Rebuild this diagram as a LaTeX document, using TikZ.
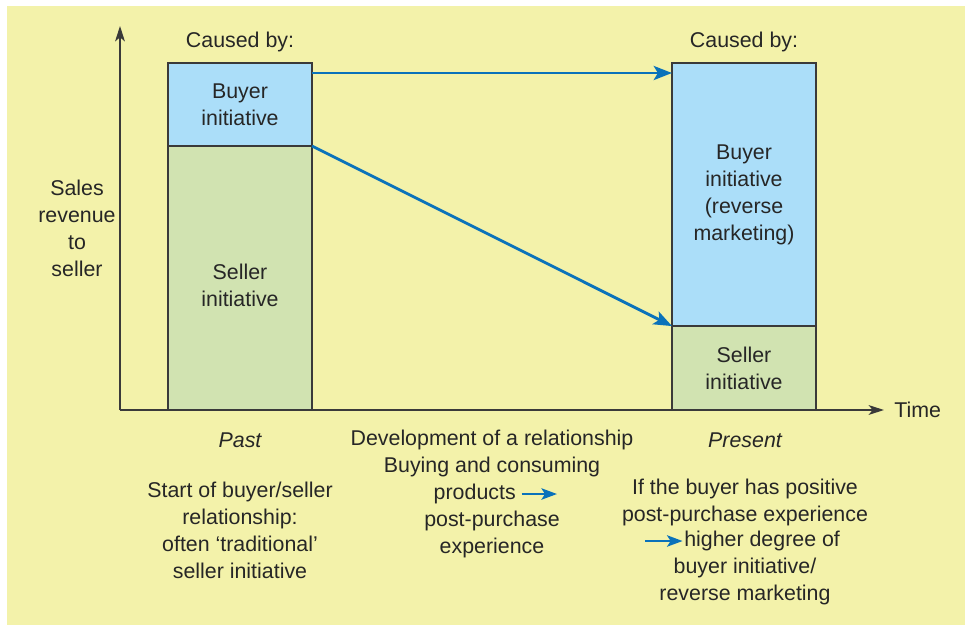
\documentclass[tikz,border=0pt]{standalone}
\usepackage{fontspec}
\setmainfont{Liberation Sans}
\usetikzlibrary{arrows.meta,positioning}
\definecolor{bgyellow}{HTML}{F3F2AA}
\definecolor{buyerblue}{HTML}{ABDEF9}
\definecolor{sellergreen}{HTML}{D1E3B1}
\definecolor{flowblue}{HTML}{0A72BA}
\definecolor{axisgray}{HTML}{3A3A3A}
\tikzset{
  txt/.style={font=\fontsize{15.2}{19.2}\selectfont, align=center, inner sep=0pt, text=black!85},
  buyerbox/.style={txt, draw=axisgray, line width=1.3pt, fill=buyerblue, minimum width=3.6cm, inner sep=0pt, outer sep=0pt, anchor=north west},
  sellerbox/.style={buyerbox, fill=sellergreen},
  flow/.style={draw=flowblue, line width=2pt, -{Stealth[length=13pt,width=10pt,inset=3pt]}},
  smallflow/.style={flow, -{Stealth[length=11pt,width=8pt,inset=2.5pt]}},
  axis/.style={draw=axisgray, line width=1pt, -{Stealth[length=11pt,width=7pt,inset=3pt]}}
}

\begin{document}
\begin{tikzpicture}[x=0.025cm,y=-0.025cm]
  \useasboundingbox (0,0) rectangle (965,625);
  \fill[bgyellow] (7,6) rectangle (965,625);

  % axes
  \coordinate (origin) at (120,410);
  \coordinate (ytop) at (120,26);
  \coordinate (xend) at (884,410);
  \draw[axis] (origin) -- (ytop);
  \draw[axis] (origin) -- (xend);
  \node[txt, anchor=west] (time) at (894,410) {Time};
  \node[txt] (sales) at (77,228) {Sales\\revenue\\to\\seller};

  % past
  \node[buyerbox, minimum height=2.075cm] (pastbuyer) at (168,63) {Buyer\\initiative};
  \node[sellerbox, minimum height=6.6cm, below=0pt of pastbuyer] (pastseller) {};
  \node[txt] (pastsellertxt) at (240,285) {Seller\\initiative};
  \node[txt, above=0.28cm of pastbuyer] (pastcause) {Caused by:};

  % present
  \node[buyerbox, minimum height=6.575cm] (presbuyer) at (672,63) {Buyer\\initiative\\(reverse\\marketing)};
  \node[sellerbox, minimum height=2.1cm, below=0pt of presbuyer] (presseller) {Seller\\initiative};
  \node[txt, above=0.28cm of presbuyer] (prescause) {Caused by:};

  % flows
  \draw[flow] ([yshift=-0.25cm]pastbuyer.north east) -- ([yshift=-0.25cm]presbuyer.north west);
  \draw[flow] (pastbuyer.south east) -- (presseller.north west);

  % captions
  \node[txt, font=\fontsize{15.2}{19.2}\selectfont\itshape] (past) at (240,440) {Past};
  \node[txt, font=\fontsize{15.2}{19.2}\selectfont\itshape] (present) at (745,440) {Present};
  \node[txt] (pastnote) at (240,530) {Start of buyer/seller\\relationship:\\often ‘traditional’\\seller initiative};

  \node[txt] (devel) at (492,453) {Development of a relationship\\Buying and consuming};
  \node[txt, anchor=east] (products) at (516,494) {products};
  \coordinate (prodarrow) at (557,494);
  \draw[smallflow] ([xshift=4pt]products.east) -- (prodarrow);
  \node[txt] (postpurch) at (492,534) {post-purchase\\experience};

  \node[txt] (presnote1) at (745,502) {If the buyer has positive\\post-purchase experience};
  \node[txt, anchor=west] (higher) at (684,541) {higher degree of};
  \coordinate (highstart) at (645,541);
  \draw[smallflow] (highstart) -- ([xshift=-1pt]higher.west);
  \node[txt] (presnote2) at (745,581) {buyer initiative/\\reverse marketing};
\end{tikzpicture}
\end{document}
